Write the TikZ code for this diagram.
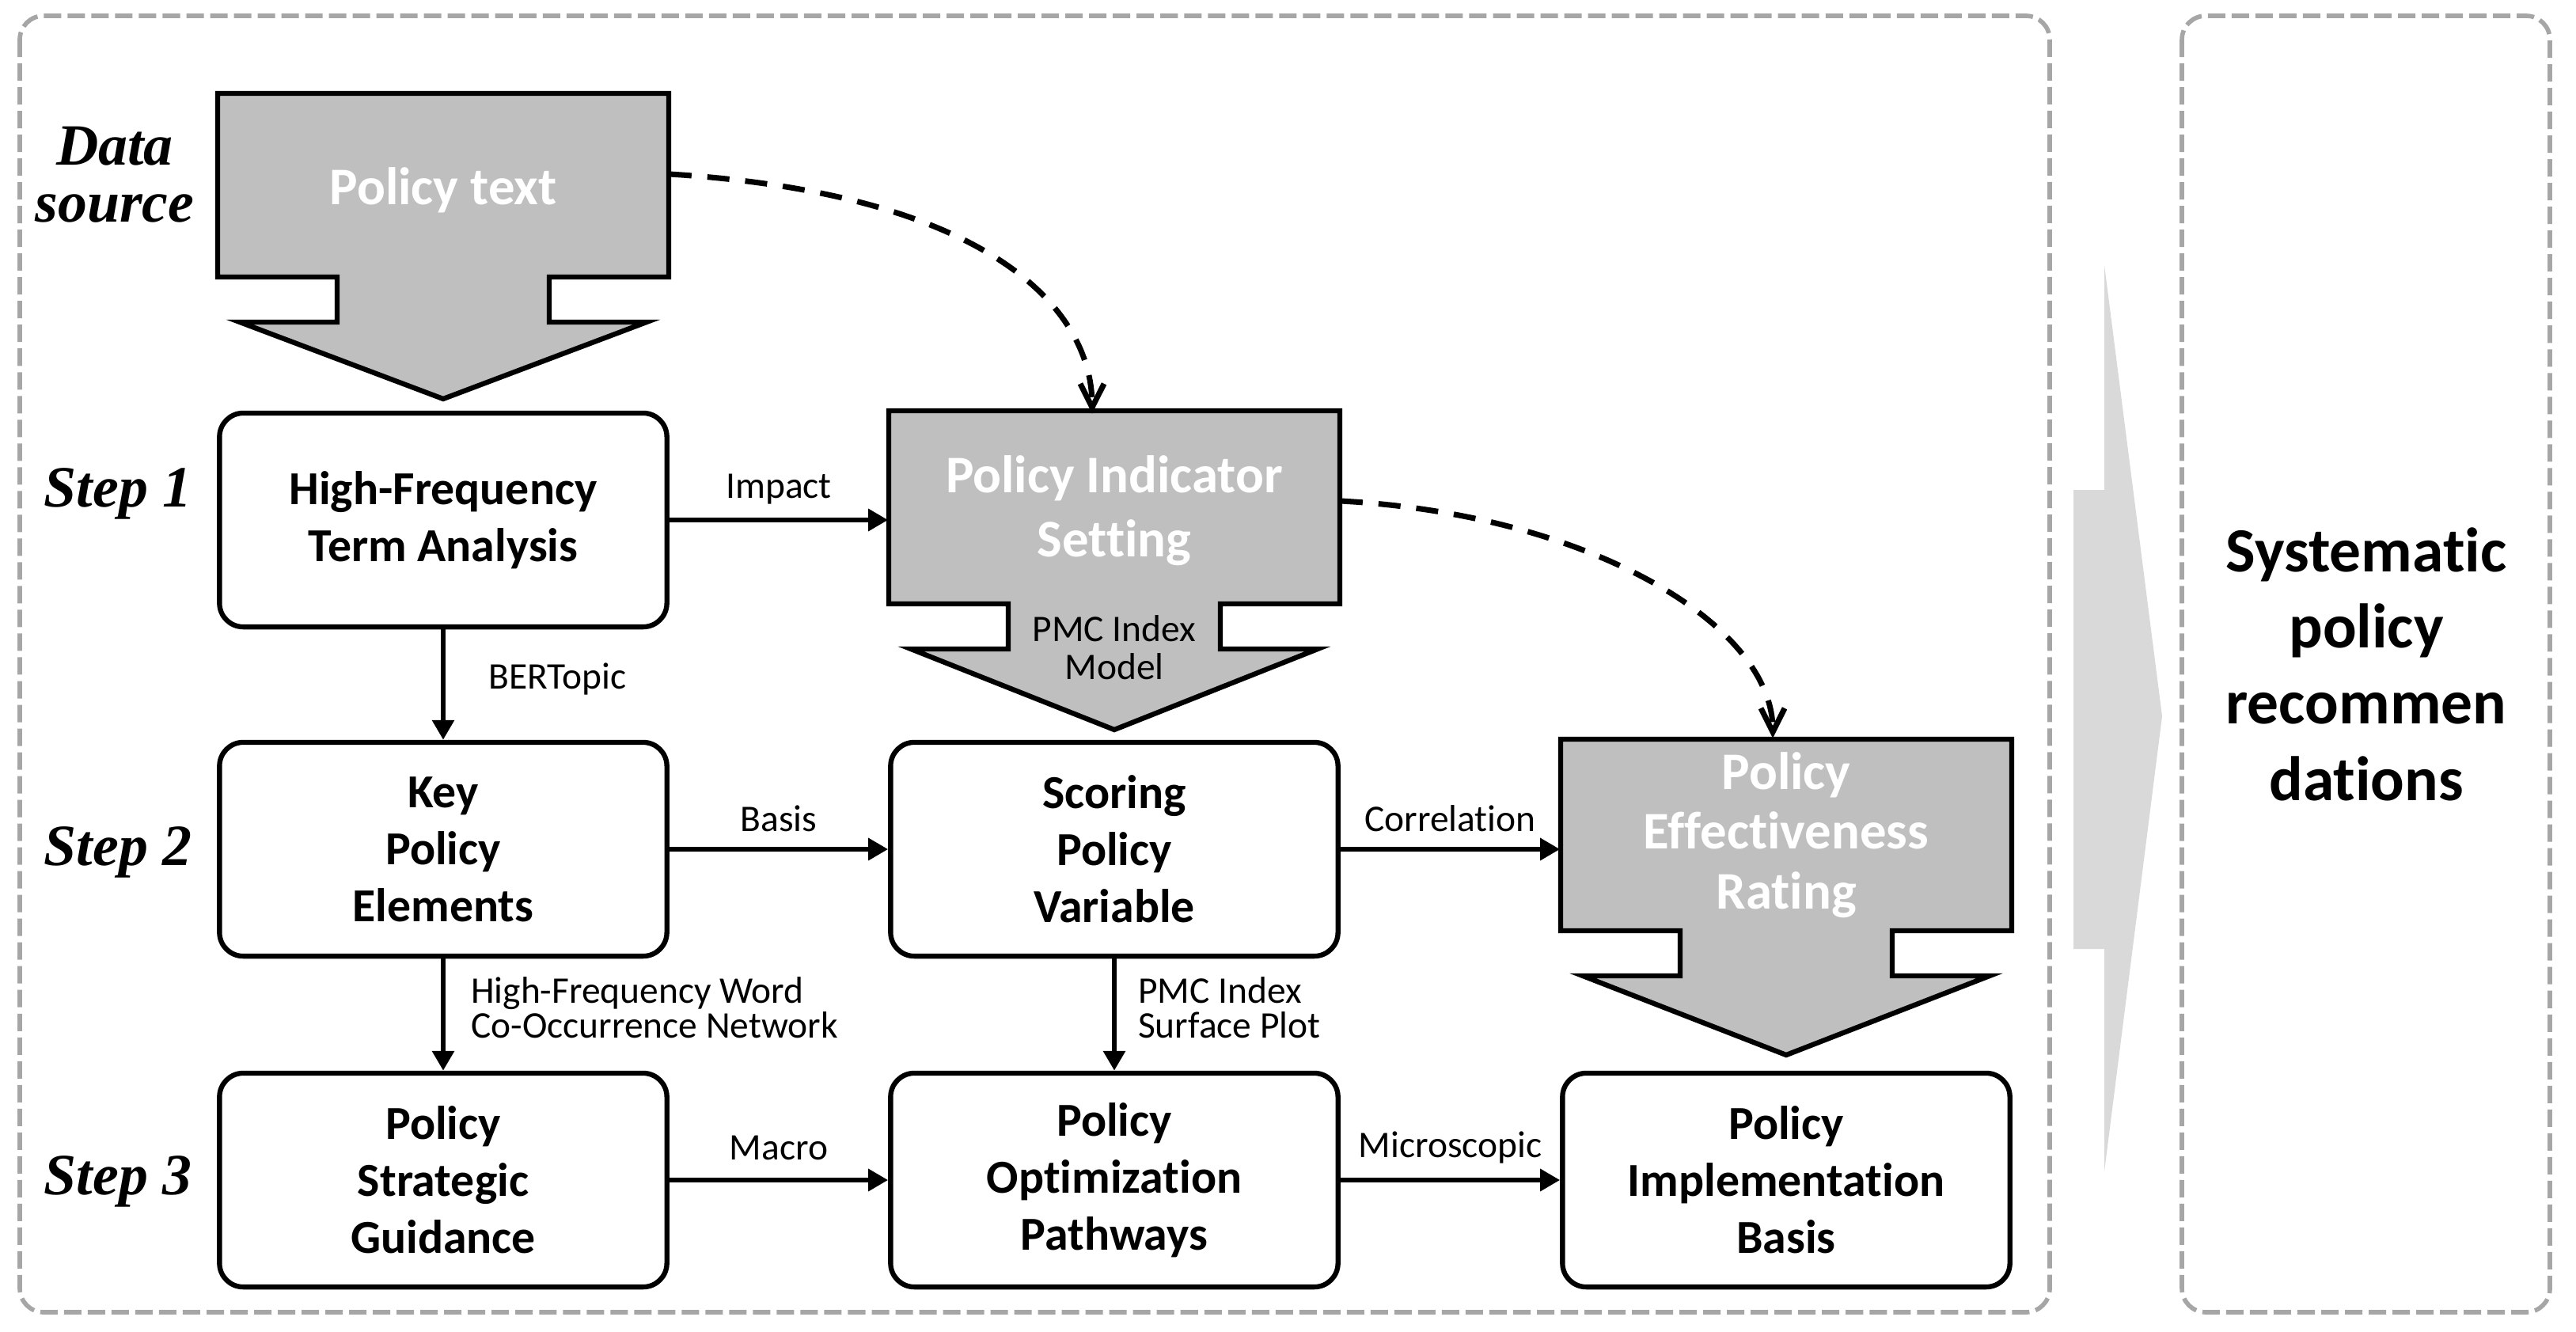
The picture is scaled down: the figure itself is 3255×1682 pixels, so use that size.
\documentclass[tikz,border=0pt]{standalone}
\usepackage{fontspec}
\setmainfont{Carlito}[Ligatures={NoCommon}]
\newfontfamily\stepfont{Liberation Serif}
\usepackage{tikz}
\usetikzlibrary{positioning, arrows.meta}
\usepackage{xcolor}

\definecolor{blockgray}{HTML}{BFBFBF}
\definecolor{framegray}{HTML}{A6A6A6}
\definecolor{bandgray}{HTML}{D9D9D9}

% grey block with a down arrow: centre x, top, bottom of the block, tip
\newcommand{\downblock}[4]{%
  \filldraw[blockarrow] (#1-285,#2) -- (#1+285,#2) -- (#1+285,#3) -- (#1+134,#3)
    -- (#1+134,#3+57) -- (#1+257,#3+57) -- (#1,#4) -- (#1-257,#3+57)
    -- (#1-134,#3+57) -- (#1-134,#3) -- (#1-285,#3) -- cycle;}

\begin{document}
\begin{tikzpicture}[x=0.01cm, y=-0.01cm,
    stepbox/.style={draw, line width=1.8pt, rounded corners=0.3cm, minimum width=5.65cm,
        minimum height=2.7cm, align=center, font=\fontsize{17}{20.5}\selectfont\bfseries},
    blocktext/.style={minimum width=5.7cm, minimum height=2.43cm, align=center, text=white,
        font=\fontsize{19}{21.5}\selectfont\bfseries},
    blockarrow/.style={fill=blockgray, draw=black, line width=1.8pt},
    flow/.style={-{Triangle[length=0.25cm, width=0.27cm]}, line width=1.8pt},
    link/.style={-{Straight Barb[length=0.3cm, width=0.3cm]}, line width=2pt,
        dash pattern=on 0.28cm off 0.2cm},
    edgelabel/.style={inner sep=0pt, align=left, font=\fontsize{13.5}{12.5}\selectfont},
    steplabel/.style={align=center, font=\stepfont\fontsize{21}{20.6}\selectfont\bfseries\itshape},
    frame/.style={draw=framegray, line width=1.6pt, dash pattern=on 0.22cm off 0.08cm,
        rounded corners=0.3cm}]
    \useasboundingbox (0,0) rectangle (3255,1682);

    % dashed frames
    \draw[frame] (25,20) rectangle (2590,1658);
    \draw[frame] (2757,20) rectangle (3222,1658);

    % light arrow to the recommendations
    \fill[bandgray] (2620,619) -- (2659,619) -- (2659,335) -- (2732,905)
        -- (2659,1480) -- (2659,1199) -- (2620,1199) -- cycle;
    \node[align=center, font=\fontsize{22.6}{27.4}\selectfont\bfseries] (advice) at (2990,839)
        {Systematic\\policy\\recommen\\dations};

    % row labels
    \node[steplabel] (srclabel) at (145,221) {Data\\source};
    \node[steplabel] (step1) at (149,624) {Step 1};
    \node[steplabel] (step2) at (149,1077) {Step 2};
    \node[steplabel] (step3) at (149,1493) {Step 3};

    % grey blocks
    \downblock{560}{118}{350}{504}
    \node[blocktext] (source) at (560,240) {Policy text};
    \downblock{1408}{519}{763}{922}
    \node[blocktext, font=\fontsize{19}{23}\selectfont\bfseries] (indicator) at (1408,645)
        {Policy Indicator\\Setting};
    \node[edgelabel, align=center, font=\fontsize{13.5}{13.6}\selectfont] (pmc) at (1408,818)
        {PMC Index\\Model};
    \downblock{2257}{934}{1176}{1333}
    \node[blocktext] (rating) at (2257,1055) {Policy\\Effectiveness\\Rating};

    % white boxes
    \node[stepbox] (freq) at (560,657) {High-Frequency\\Term Analysis};
    \node[stepbox] (keyel) at (560,1073) {Key\\Policy\\Elements};
    \node[stepbox] (score) at (1408,1073) {Scoring\\Policy\\Variable};
    \node[stepbox] (guide) at (560,1491) {Policy\\Strategic\\Guidance};
    \node[stepbox] (pathway) at (1408,1491) {Policy\\Optimization\\Pathways};
    \node[stepbox] (implement) at (2257,1491) {Policy\\Implementation\\Basis};

    % connectors
    \draw[flow] (freq.east) -- node[edgelabel, yshift=0.39cm] (impact) {Impact}
        (freq.east -| indicator.west);
    \draw[flow] (freq) -- node[edgelabel, anchor=west, xshift=0.54cm, yshift=0.07cm] (bert)
        {BERTopic} (keyel);
    \draw[flow] (keyel) -- node[edgelabel, yshift=0.39cm] (basislabel) {Basis} (score);
    \draw[flow] (score) -- node[edgelabel, yshift=0.39cm] (corr) {Correlation}
        (score -| rating.west);
    \draw[flow] (keyel) -- node[edgelabel, anchor=west, xshift=0.32cm, yshift=0.09cm] (cooc)
        {High-Frequency Word\\Co-Occurrence Network} (guide);
    \draw[flow] (score) -- node[edgelabel, anchor=west, xshift=0.27cm, yshift=0.09cm] (surface)
        {PMC Index\\Surface Plot} (pathway);
    \draw[flow] (guide) -- node[edgelabel, yshift=0.41cm] (macro) {Macro} (pathway);
    \draw[flow] (pathway) -- node[edgelabel, yshift=0.41cm] (micro) {Microscopic} (implement);

    % dashed links
    \draw[link] ([yshift=0.2cm]source.east) .. controls (1250,245) and (1380,390)
        .. ([xshift=-0.28cm]indicator.north);
    \draw[link] ([yshift=0.12cm]indicator.east) .. controls (2010,650) and (2240,790)
        .. ([xshift=-0.17cm]rating.north);
\end{tikzpicture}
\end{document}
